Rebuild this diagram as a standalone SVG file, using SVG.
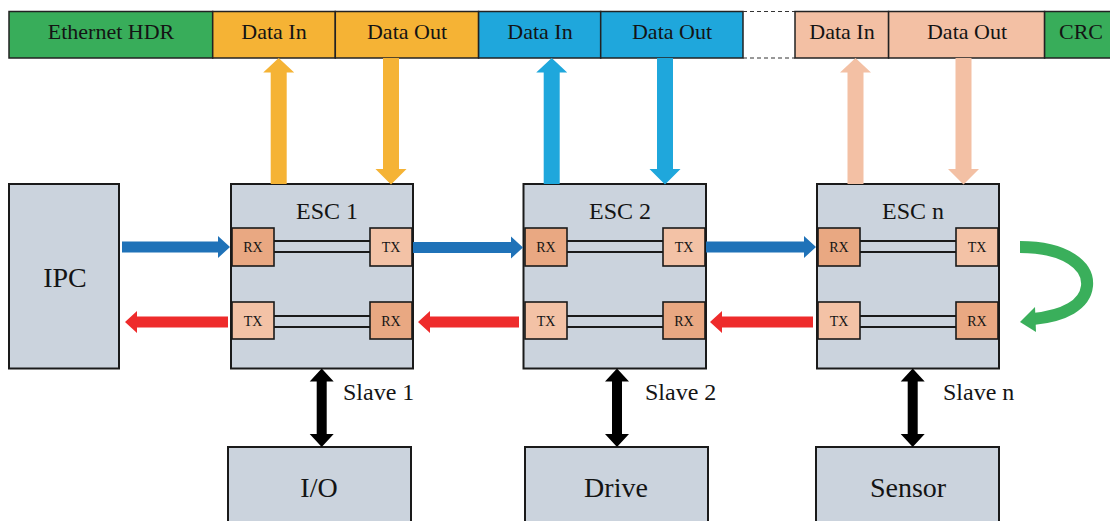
<svg xmlns="http://www.w3.org/2000/svg" xmlns:xlink="http://www.w3.org/1999/xlink" width="1110" height="521" viewBox="0 0 1110 521">
  <style>
    text { font-family: "Liberation Serif", "Times New Roman", serif; fill: #141414; text-anchor: middle; }
    .cell { stroke: #222; stroke-width: 1.5; }
    .green { fill: #38AD5A; }
    .orange { fill: #F5B335; }
    .sky { fill: #1FA7DC; }
    .peach { fill: #F3C0A4; }
    .box { fill: #CBD3DD; stroke: #1a1a1a; stroke-width: 2; }
    .rx { fill: #E9A882; stroke: #1a1a1a; stroke-width: 1.6; }
    .tx { fill: #F3C2A6; stroke: #1a1a1a; stroke-width: 1.6; }
    .link { stroke: #1a1a1a; stroke-width: 1.8; }
    .hdr { font-size: 22px; }
    .title { font-size: 24px; }
    .port { font-size: 14px; }
    .big { font-size: 28px; }
    .slave { font-size: 24px; text-anchor: start; }
    .fwd { fill: #1F72B8; }
    .back { fill: #EE2B2B; }
    .bus { fill: #000; }
    .dash { stroke: #333; stroke-width: 1; stroke-dasharray: 4 3; }
  </style>
  <defs>
    <!-- thick vertical arrow, tip at origin, pointing up (126 px long) -->
    <path id="vup" d="M0,0 L15.5,14.5 L8,14.5 L8,126 L-8,126 L-8,14.5 L-15.5,14.5 Z"/>
    <!-- same arrow pointing down, tip at origin -->
    <path id="vdown" d="M0,0 L15.5,-15.5 L8,-15.5 L8,-126.5 L-8,-126.5 L-8,-15.5 L-15.5,-15.5 Z"/>
  </defs>

  <!-- frame layout bar -->
  <g id="frame">
    <rect class="cell green" x="9" y="11.5" width="203.7" height="46.5"/>
    <rect class="cell orange" x="212.7" y="11.5" width="122.6" height="46.5"/>
    <rect class="cell orange" x="335.3" y="11.5" width="143.3" height="46.5"/>
    <rect class="cell sky" x="478.6" y="11.5" width="122.1" height="46.5"/>
    <rect class="cell sky" x="600.7" y="11.5" width="142.3" height="46.5"/>
    <line class="dash" x1="743" y1="11.5" x2="795" y2="11.5"/>
    <line class="dash" x1="743" y1="58" x2="795" y2="58"/>
    <rect class="cell peach" x="795" y="11.5" width="93.6" height="46.5"/>
    <rect class="cell peach" x="888.6" y="11.5" width="156" height="46.5"/>
    <rect class="cell green" x="1044.6" y="11.5" width="74" height="46.5"/>
    <text class="hdr" x="111" y="39">Ethernet HDR</text>
    <text class="hdr" x="274" y="39">Data In</text>
    <text class="hdr" x="407" y="39">Data Out</text>
    <text class="hdr" x="540" y="39">Data In</text>
    <text class="hdr" x="672" y="39">Data Out</text>
    <text class="hdr" x="842" y="39">Data In</text>
    <text class="hdr" x="967" y="39">Data Out</text>
    <text class="hdr" x="1081" y="39">CRC</text>
  </g>

  <!-- master -->
  <g id="ipc">
    <rect class="box" x="9" y="184" width="110" height="184.5"/>
    <text class="big" x="65" y="287">IPC</text>
  </g>

  <!-- slave controllers -->
  <g id="esc1">
    <rect class="box" x="231" y="184" width="182" height="184.5"/>
    <text class="title" x="327" y="219">ESC 1</text>
    <line class="link" x1="274" y1="241" x2="370" y2="241"/>
    <line class="link" x1="274" y1="252" x2="370" y2="252"/>
    <line class="link" x1="274" y1="316" x2="370" y2="316"/>
    <line class="link" x1="274" y1="327" x2="370" y2="327"/>
    <rect class="rx" x="232" y="228" width="42" height="38"/>
    <rect class="tx" x="370" y="228" width="42" height="38"/>
    <rect class="tx" x="232" y="302" width="42" height="37"/>
    <rect class="rx" x="370" y="302" width="42" height="37"/>
    <text class="port" x="253" y="252">RX</text>
    <text class="port" x="391" y="252">TX</text>
    <text class="port" x="253" y="326">TX</text>
    <text class="port" x="391" y="326">RX</text>
  </g>
  <g id="esc2">
    <rect class="box" x="523.5" y="184" width="182.5" height="184.5"/>
    <text class="title" x="620" y="219">ESC 2</text>
    <line class="link" x1="567" y1="241" x2="663" y2="241"/>
    <line class="link" x1="567" y1="252" x2="663" y2="252"/>
    <line class="link" x1="567" y1="316" x2="663" y2="316"/>
    <line class="link" x1="567" y1="327" x2="663" y2="327"/>
    <rect class="rx" x="525" y="228" width="42" height="38"/>
    <rect class="tx" x="663" y="228" width="42" height="38"/>
    <rect class="tx" x="525" y="302" width="42" height="37"/>
    <rect class="rx" x="663" y="302" width="42" height="37"/>
    <text class="port" x="546" y="252">RX</text>
    <text class="port" x="684" y="252">TX</text>
    <text class="port" x="546" y="326">TX</text>
    <text class="port" x="684" y="326">RX</text>
  </g>
  <g id="escn">
    <rect class="box" x="817" y="184" width="182" height="184.5"/>
    <text class="title" x="913" y="219">ESC n</text>
    <line class="link" x1="860" y1="241" x2="956" y2="241"/>
    <line class="link" x1="860" y1="252" x2="956" y2="252"/>
    <line class="link" x1="860" y1="316" x2="956" y2="316"/>
    <line class="link" x1="860" y1="327" x2="956" y2="327"/>
    <rect class="rx" x="818" y="228" width="42" height="38"/>
    <rect class="tx" x="956" y="228" width="42" height="38"/>
    <rect class="tx" x="818" y="302" width="42" height="37"/>
    <rect class="rx" x="956" y="302" width="42" height="37"/>
    <text class="port" x="839" y="252">RX</text>
    <text class="port" x="977" y="252">TX</text>
    <text class="port" x="839" y="326">TX</text>
    <text class="port" x="977" y="326">RX</text>
  </g>

  <!-- devices -->
  <g id="io">
    <rect class="box" x="228" y="447" width="183" height="90"/>
    <text class="big" x="319" y="497">I/O</text>
  </g>
  <g id="drive">
    <rect class="box" x="525" y="447" width="183" height="90"/>
    <text class="big" x="616" y="497">Drive</text>
  </g>
  <g id="sensor">
    <rect class="box" x="816" y="447" width="183" height="90"/>
    <text class="big" x="908" y="497">Sensor</text>
  </g>

  <!-- connectors -->
  <g id="connectors">
    <!-- process data exchange with the frame -->
    <use xlink:href="#vup" href="#vup" class="orange" x="278.7" y="58"/>
    <use xlink:href="#vdown" href="#vdown" class="orange" x="391" y="184.5"/>
    <use xlink:href="#vup" href="#vup" class="sky" x="551.7" y="58"/>
    <use xlink:href="#vdown" href="#vdown" class="sky" x="665" y="184.5"/>
    <use xlink:href="#vup" href="#vup" class="peach" x="855.5" y="58"/>
    <use xlink:href="#vdown" href="#vdown" class="peach" x="963.5" y="184.5"/>

    <!-- forward path -->
    <polygon class="fwd" points="122,241.5 218,241.5 218,236 230,247 218,258 218,252.5 122,252.5"/>
    <polygon class="fwd" points="413,242 511,242 511,236.5 523,247.5 511,258.5 511,253 413,253"/>
    <polygon class="fwd" points="706,241.5 804,241.5 804,236 816,247 804,258 804,252.5 706,252.5"/>

    <!-- return path -->
    <polygon class="back" points="228,316.5 137,316.5 137,311 125,322 137,333 137,327.5 228,327.5"/>
    <polygon class="back" points="519,316.5 430,316.5 430,311 418,322 430,333 430,327.5 519,327.5"/>
    <polygon class="back" points="813,316.5 722,316.5 722,311 710,322 722,333 722,327.5 813,327.5"/>

    <!-- loop-back at the last slave -->
    <path d="M1020,247 C1066,247 1089,266 1087,286 C1085,305 1064,316 1033,319" fill="none" stroke="#3AAF5B" stroke-width="12"/>
    <polygon points="1020,322 1035,307 1036,332" fill="#3AAF5B"/>

    <!-- slave to device links -->
    <path class="bus" d="M321.7,368.5 L333.7,381.5 L326.7,381.5 L326.7,434 L333.7,434 L321.7,447 L309.7,434 L316.7,434 L316.7,381.5 L309.7,381.5 Z"/>
    <path class="bus" d="M617,368.5 L629,381.5 L622,381.5 L622,434 L629,434 L617,447 L605,434 L612,434 L612,381.5 L605,381.5 Z"/>
    <path class="bus" d="M912.7,368.5 L924.7,381.5 L917.7,381.5 L917.7,434 L924.7,434 L912.7,447 L900.7,434 L907.7,434 L907.7,381.5 L900.7,381.5 Z"/>
    <text class="slave" x="343" y="400">Slave 1</text>
    <text class="slave" x="645" y="400">Slave 2</text>
    <text class="slave" x="943" y="400">Slave n</text>
  </g>
</svg>
